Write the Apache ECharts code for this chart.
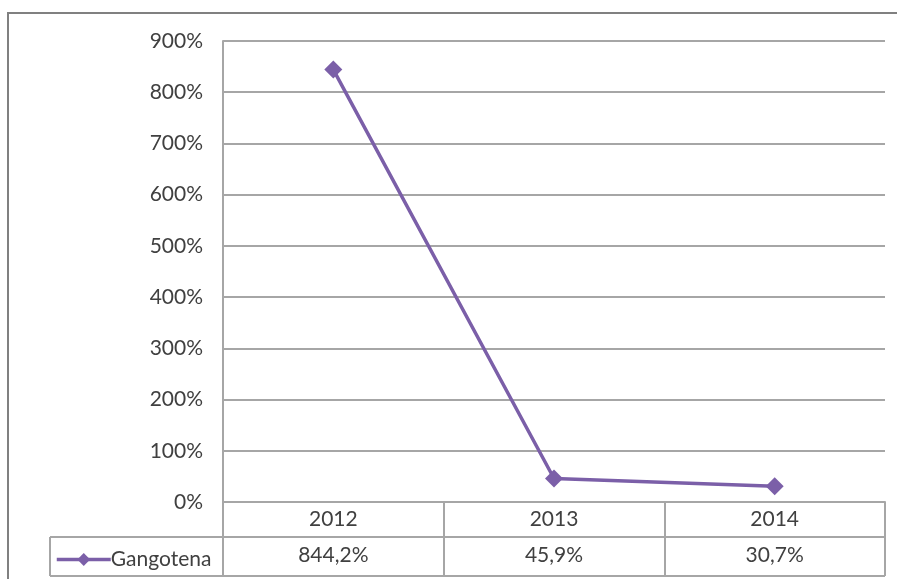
<!DOCTYPE html>
<html>
<head>
<meta charset="utf-8">
<script src="https://cdn.jsdelivr.net/npm/echarts@6/dist/echarts.min.js"></script>
<style>
  html, body { margin: 0; padding: 0; background: #fff; }
  #chart { width: 897px; height: 579px; }
</style>
</head>
<body>
<div id="chart"></div>
<script>
// Year-on-year growth, Gangotena
const years = ['2012', '2013', '2014'];
const seriesName = 'Gangotena';
const growth = [844.2, 45.9, 30.7];
const yTicks = { min: 0, max: 900, step: 100 };

const FONT = 'Lato';
const FS = 21;
const TEXT = '#404040';
const LINE = '#a6a6a6';
const PURPLE = '#7b5fa8';

const fmtPct = v => v.toFixed(1).replace('.', ',') + '%';

const chart = echarts.init(document.getElementById('chart'));

const gridLeft = 223, gridRight = 12, gridTop = 41, gridBottom = 77;
const rowH = 35;

chart.setOption({
  animation: false,
  textStyle: { fontFamily: FONT },
  grid: { left: gridLeft, right: gridRight, top: gridTop, bottom: gridBottom },
  legend: {
    data: [seriesName],
    left: 50, top: 544,
    itemWidth: 54, itemHeight: 16,
    itemGap: 0,
    itemStyle: { borderWidth: 0 },
    lineStyle: { width: 3.5 },
    textStyle: { fontFamily: FONT, fontSize: FS, color: TEXT, padding: [0, 0, 0, -5] }
  },
  xAxis: [
    {
      type: 'category',
      data: years,
      boundaryGap: true,
      position: 'bottom',
      axisLine: { lineStyle: { color: LINE, width: 2 } },
      axisTick: { show: true, length: 74, lineStyle: { color: LINE, width: 2 } },
      axisLabel: { color: TEXT, fontSize: FS, fontFamily: FONT, margin: 7 },
      splitLine: { show: false }
    },
    {
      type: 'category',
      data: years,
      boundaryGap: true,
      position: 'bottom',
      offset: rowH,
      axisLine: { show: false },
      axisTick: { show: false },
      axisLabel: {
        color: TEXT, fontSize: FS, fontFamily: FONT, margin: 8,
        formatter: (val, idx) => fmtPct(growth[idx])
      }
    }
  ],
  yAxis: {
    type: 'value',
    min: yTicks.min, max: yTicks.max, interval: yTicks.step,
    axisLine: { show: true, lineStyle: { color: LINE, width: 2 } },
    axisTick: { show: false },
    axisLabel: { color: TEXT, fontSize: FS, fontFamily: FONT, margin: 20, formatter: '{value}%' },
    splitLine: { lineStyle: { color: LINE, width: 2 } }
  },
  series: [{
    name: seriesName,
    type: 'line',
    xAxisIndex: 0,
    data: growth,
    symbol: 'diamond',
    symbolSize: 18,
    color: PURPLE,
    lineStyle: { width: 3.5, color: PURPLE },
    itemStyle: { color: PURPLE }
  }]
});

// Frame and data-table rules, placed from the grid's own pixel mapping
function drawTable() {
  const left = chart.convertToPixel({ xAxisIndex: 0 }, years[0]);
  const cw = chart.convertToPixel({ xAxisIndex: 0 }, years[1]) - left;
  const x0 = left - cw / 2;
  const x1 = x0 + cw * years.length;
  const yAxis0 = chart.convertToPixel({ yAxisIndex: 0 }, 0);
  const rowTop = yAxis0 + rowH;
  const rowBottom = rowTop + 39;
  const legendLeft = 50;
  const st = { stroke: LINE, lineWidth: 2 };
  chart.setOption({
    graphic: [
      { type: 'rect', shape: { x: 8, y: 13, width: 1000, height: 1000 },
        style: { fill: 'none', stroke: '#808080', lineWidth: 2 }, silent: true },
      { type: 'line', shape: { x1: legendLeft, y1: rowTop, x2: x1, y2: rowTop }, style: st, silent: true },
      { type: 'line', shape: { x1: legendLeft, y1: rowBottom, x2: x1, y2: rowBottom }, style: st, silent: true },
      { type: 'line', shape: { x1: legendLeft, y1: rowTop, x2: legendLeft, y2: rowBottom }, style: st, silent: true }
    ]
  });
}
drawTable();
</script>
</body>
</html>
